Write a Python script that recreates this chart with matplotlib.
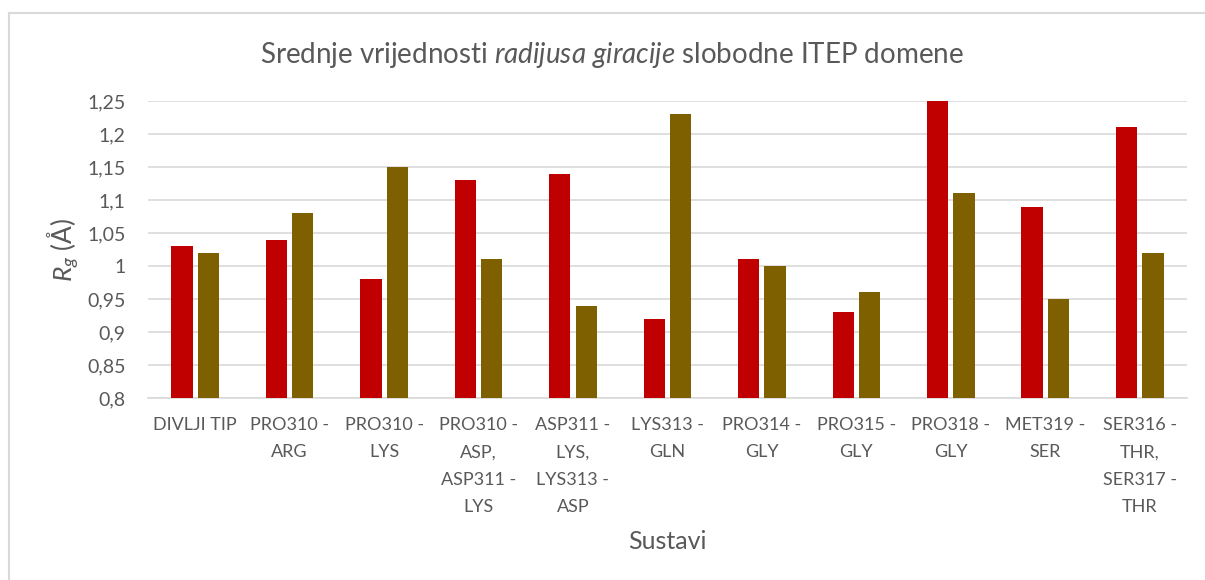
import matplotlib.pyplot as plt
import numpy as np

sustavi = ['DIVLJI TIP', 'PRO310 -\nARG', 'PRO310 -\nLYS', 'PRO310 -\nASP,\nASP311 -\nLYS',
	'ASP311 -\nLYS,\nLYS313 -\nASP', 'LYS313 -\nGLN', 'PRO314 -\nGLY', 'PRO315 -\nGLY',
	'PRO318 -\nGLY', 'MET319 -\nSER', 'SER316 -\nTHR,\nSER317 -\nTHR']
rg_prvi = [1.03, 1.04, 0.98, 1.13, 1.14, 0.92, 1.01, 0.93, 1.25, 1.09, 1.21]
rg_drugi = [1.02, 1.08, 1.15, 1.01, 0.94, 1.23, 1.00, 0.96, 1.11, 0.95, 1.02]
yticks = [0.8, 0.85, 0.9, 0.95, 1.0, 1.05, 1.1, 1.15, 1.2, 1.25]

plt.rcParams['font.family'] = ['Lato', 'DejaVu Sans']
plt.rcParams['mathtext.fontset'] = 'custom'
plt.rcParams['mathtext.rm'] = 'Lato'
plt.rcParams['mathtext.it'] = 'Lato:italic'
siva = '#595959'

fig = plt.figure(figsize=(12.05, 5.8), dpi=100)
ax = fig.add_axes([0.1228, 0.3138, 0.8622, 0.5121])

x = np.arange(len(sustavi))
w = 0.225
ax.bar(x - 0.14, rg_prvi, w, color='#C00000', zorder=3)
ax.bar(x + 0.14, rg_drugi, w, color='#7F6000', zorder=3)

ax.set_ylim(0.8, 1.25)
ax.set_xlim(-0.5, len(sustavi) - 0.5)
ax.set_yticks(yticks)
ax.set_yticklabels([('%g' % v).replace('.', ',') for v in yticks])
ax.set_xticks(x)
ax.set_xticklabels(sustavi, linespacing=1.85)
ax.tick_params(length=0, colors=siva, labelsize=14)
ax.tick_params(axis='x', pad=14, labelsize=13)
ax.tick_params(axis='y', pad=16)
ax.grid(axis='y', color='#D9D9D9', linewidth=1.2, zorder=0)
for s in ['top', 'right', 'left']:
	ax.spines[s].set_visible(False)
ax.spines['bottom'].set_color('#D9D9D9')
ax.spines['bottom'].set_linewidth(1.2)

ax.set_xlabel('Sustavi', color=siva, fontsize=18, labelpad=11)
ax.set_ylabel(r'$R_g$ (Å)', color=siva, fontsize=19, labelpad=4)
fig.text(0.508, 0.905, r'Srednje vrijednosti $\mathit{radijusa\ giracije}$ slobodne ITEP domene',
	color=siva, fontsize=20, ha='center', va='center')

# okvir grafikona
fig.add_artist(plt.Line2D([9 / 1205, 1], [1 - 13 / 580, 1 - 13 / 580], color='#D9D9D9', linewidth=1.5))
fig.add_artist(plt.Line2D([9 / 1205, 9 / 1205], [0, 1 - 13 / 580], color='#D9D9D9', linewidth=1.5))

fig.savefig('out.png', dpi=100)
